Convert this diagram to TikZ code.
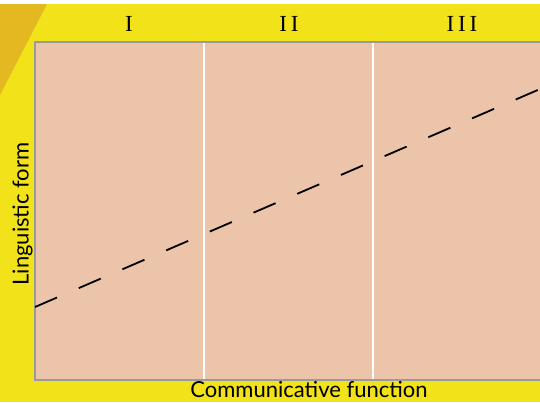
\documentclass[tikz,border=0pt]{standalone}
\usepackage{fontspec}
\setmainfont{Liberation Serif}
\newfontfamily\labfont{Lato}
\definecolor{bgyellow}{HTML}{F2E21A}
\definecolor{darkyellow}{HTML}{E4B820}
\definecolor{plotfill}{HTML}{ECC4AA}
\definecolor{bordergray}{HTML}{9A9A9A}
\tikzset{
  roman/.style={font=\fontsize{23}{27}\selectfont, inner sep=0pt},
  axislabel/.style={font=\labfont\fontsize{22}{26}\selectfont, inner sep=0pt},
  divider/.style={white, line width=2pt},
  trend/.style={black, line width=1.8pt, dash pattern=on 24pt off 23.6pt},
}
\begin{document}
\begin{tikzpicture}[x=1pt,y=-1pt]
\useasboundingbox (0,0) rectangle (540,402);
\clip (0,0) rectangle (540,402);
\fill[white] (0,0) rectangle (540,402);
\fill[bgyellow] (0,4) rectangle (540,402);
\fill[darkyellow] (0,4) -- (47,4) -- (0,95) -- cycle;
\filldraw[fill=plotfill, draw=bordergray, line width=2pt] (35,42) rectangle (560,380);
\draw[divider] (204,43) -- (204,379);
\draw[divider] (373,43) -- (373,379);
\coordinate (ls) at (35,307);
\coordinate (le) at (560,80.4);
\draw[trend] (ls) -- (le);
\node[roman, anchor=base] (r1) at (129,31) {I};
\node[roman, anchor=base] (r2) at (289,31) {I\,I};
\node[roman, anchor=base] (r3) at (462,31) {I\,I\,I};
\node[axislabel, anchor=base] (xl) at (309,397.5) {Communicative function};
\node[axislabel, rotate=90, anchor=base] (yl) at (28.5,214) {Linguistic form};
\end{tikzpicture}
\end{document}
